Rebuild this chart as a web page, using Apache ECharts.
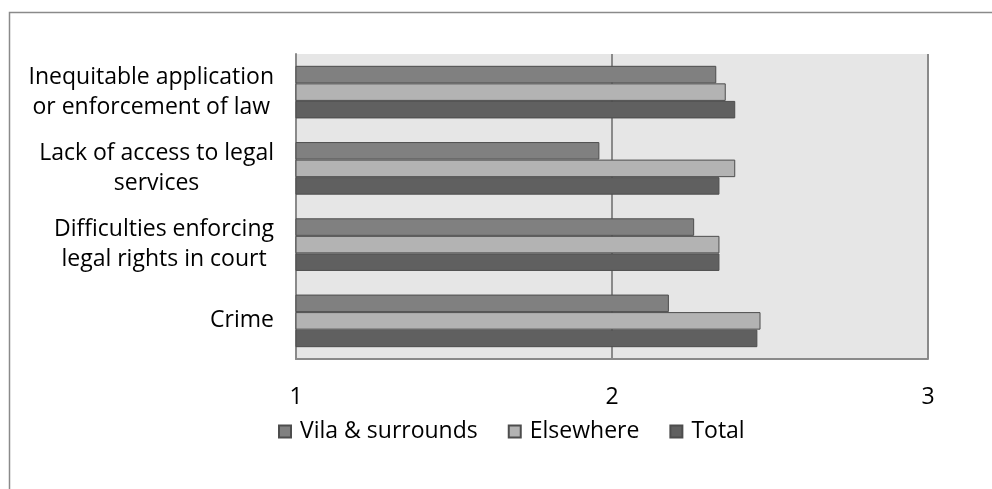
<!DOCTYPE html>
<html>
<head>
<meta charset="utf-8">
<script src="https://cdn.jsdelivr.net/npm/echarts@6/dist/echarts.min.js"></script>
<style>
  html, body { margin: 0; padding: 0; background: #fff; }
  #chart { width: 992px; height: 489px; }
</style>
</head>
<body>
<div id="chart"></div>
<script>
// Categories listed bottom-to-top (ECharts category y axis starts at the bottom)
const categories = [
  'Crime',
  'Difficulties enforcing\nlegal rights in court',
  'Lack of access to legal\nservices',
  'Inequitable application\nor enforcement of law'
];
const seriesNames = ['Vila & surrounds', 'Elsewhere', 'Total'];
const vilaValues = [2.18, 2.26, 1.96, 2.33];
const elsewhereValues = [2.47, 2.34, 2.39, 2.36];
const totalValues = [2.46, 2.34, 2.34, 2.39];
const xTicks = [1, 2, 3];

const FONT = '"Open Sans", "Noto Sans", sans-serif';
const FS = 23;
const gridColor = '#8a8a8a';

const chart = echarts.init(document.getElementById('chart'), null, { renderer: 'canvas' });

const barStyle = (fill) => ({
  color: fill,
  borderColor: '#4d4d4d',
  borderWidth: 1
});

chart.setOption({
  animation: false,
  backgroundColor: '#ffffff',
  textStyle: { fontFamily: FONT },
  graphic: [{
    type: 'rect',
    shape: { x: 9.5, y: 12.5, width: 1000, height: 500 },
    style: { fill: 'none', stroke: '#8a8a8a', lineWidth: 1.5 },
    silent: true
  }],
  grid: {
    left: 296, right: 64, top: 54, bottom: 130,
    show: true, backgroundColor: '#e6e6e6', borderWidth: 0
  },
  legend: {
    bottom: 41,
    left: 273,
    icon: 'rect',
    itemWidth: 12,
    itemHeight: 12,
    itemGap: 30,
    data: seriesNames,
    textStyle: { fontSize: FS, color: '#000', fontFamily: FONT, padding: [0, 0, 0, 4] }
  },
  xAxis: {
    type: 'value',
    min: xTicks[0],
    max: xTicks[xTicks.length - 1],
    interval: 1,
    axisLine: { show: true, onZero: false, lineStyle: { color: gridColor, width: 2 } },
    axisTick: { show: false },
    splitLine: { show: true, lineStyle: { color: gridColor, width: 2 } },
    axisLabel: { fontSize: FS, color: '#000', margin: 27, fontFamily: FONT }
  },
  yAxis: {
    type: 'category',
    data: categories,
    axisLine: { show: true, lineStyle: { color: gridColor, width: 2 } },
    axisTick: { show: false },
    splitLine: { show: false },
    axisLabel: {
      margin: 22,
      fontSize: FS,
      color: '#000',
      fontFamily: FONT,
      align: 'right',
      lineHeight: 30,
      formatter: (v) => v.split('\n').map(s => '{c|' + s + '}').join('\n'),
      rich: {
        c: { align: 'center', fontSize: FS, lineHeight: 30, color: '#000', fontFamily: FONT }
      }
    }
  },
  series: [
    {
      name: seriesNames[0], type: 'bar', data: vilaValues,
      barGap: '0%', barCategoryGap: '31%',
      itemStyle: barStyle('#808080')
    },
    {
      name: seriesNames[1], type: 'bar', data: elsewhereValues,
      barGap: '0%', barCategoryGap: '31%',
      itemStyle: barStyle('#b3b3b3')
    },
    {
      name: seriesNames[2], type: 'bar', data: totalValues,
      barGap: '0%', barCategoryGap: '31%',
      itemStyle: barStyle('#606060')
    }
  ]
});
</script>
</body>
</html>
